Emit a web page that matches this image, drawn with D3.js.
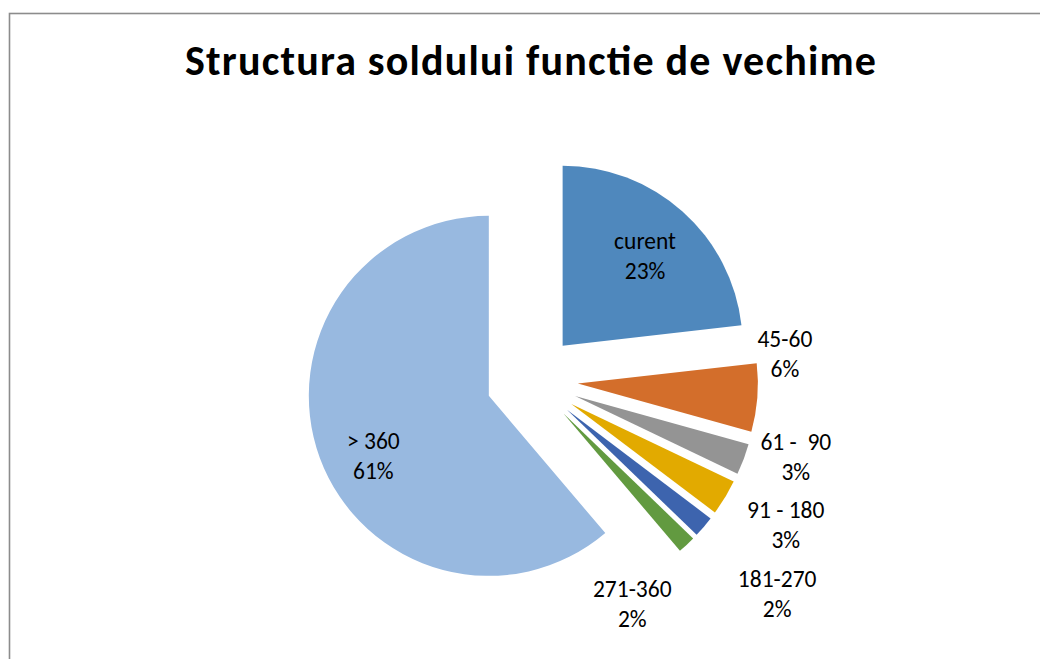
<!DOCTYPE html>
<html>
<head>
<meta charset="utf-8">
<script src="https://cdn.jsdelivr.net/npm/d3@7/dist/d3.min.js"></script>
<style>
  body { margin: 0; background: #fff; }
  text { font-family: Calibri, Carlito, Lato, sans-serif; }
</style>
</head>
<body>
<div id="chart"></div>
<script>
// slice data
const categories = ["curent", "45-60", "61 -  90", "91 - 180", "181-270", "271-360", "> 360"];
const values = [23.2, 6.1, 2.8, 3.2, 1.9, 1.6, 61.2];
const colors = ["#4f88bd", "#d36e2b", "#949494", "#e2aa00", "#3d64ae", "#629a40", "#98b9e0"];

// label placement, polar around pie centre (deg clockwise from top, px)
const labelAngle = [40.8, 82.6, 104.9, 118.6, 130.2, 155.2, 246.5];
const labelRadius = [173, 255, 273, 289, 321, 239, 173];

const width = 1040, height = 659;
const cx = 532, cy = 380, radius = 180, explode = 46;

const svg = d3.select("#chart").append("svg")
  .attr("width", width)
  .attr("height", height);

// chart area border (runs off the right/bottom of the window)
svg.append("rect")
  .attr("x", 9.5).attr("y", 13.5)
  .attr("width", width + 20).attr("height", height + 20)
  .attr("fill", "none")
  .attr("stroke", "#8c8c8c")
  .attr("stroke-width", 1.6);

svg.append("text")
  .attr("x", 530.5).attr("y", 75)
  .attr("text-anchor", "middle")
  .attr("textLength", 691)
  .attr("lengthAdjust", "spacing")
  .style("font-size", "42px")
  .style("font-weight", "bold")
  .text("Structura soldului functie de vechime");

const data = categories.map((c, i) => ({ name: c, value: values[i], color: colors[i] }));
const total = d3.sum(values);

const pie = d3.pie().sort(null).value(d => d.value);
const arc = d3.arc().innerRadius(0).outerRadius(radius);
const arcs = pie(data);

const g = svg.append("g").attr("transform", `translate(${cx},${cy})`);

g.selectAll("path")
  .data(arcs)
  .join("path")
  .attr("transform", d => {
    const a = (d.startAngle + d.endAngle) / 2;
    return `translate(${explode * Math.sin(a)},${-explode * Math.cos(a)})`;
  })
  .attr("d", arc)
  .attr("fill", d => d.data.color);

// data labels: category + percentage on two lines
const lbl = g.selectAll("text.lbl")
  .data(arcs)
  .join("text")
  .attr("class", "lbl")
  .attr("text-anchor", "middle")
  .attr("xml:space", "preserve")
  .style("font-size", "23.5px")
  .style("fill", "#000")
  .attr("transform", (d, i) => {
    const a = labelAngle[i] * Math.PI / 180;
    return `translate(${labelRadius[i] * Math.sin(a)},${-labelRadius[i] * Math.cos(a)})`;
  });

lbl.append("tspan")
  .attr("x", 0).attr("y", 0)
  .style("white-space", "pre")
  .text(d => d.data.name);

lbl.append("tspan")
  .attr("x", 0).attr("y", 30)
  .text(d => Math.round(d.data.value / total * 100) + "%");
</script>
</body>
</html>
